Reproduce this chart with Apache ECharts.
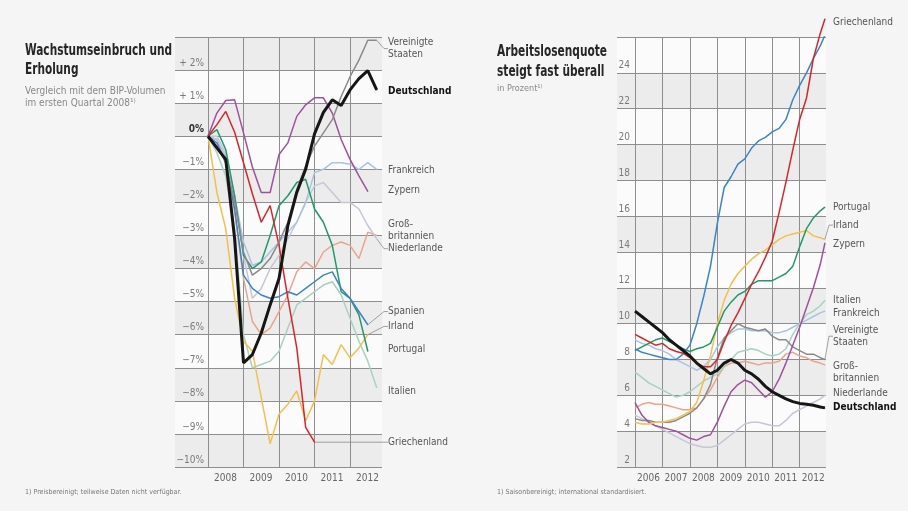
<!DOCTYPE html>
<html>
<head>
<meta charset="utf-8">
<script src="https://cdn.jsdelivr.net/npm/echarts@6/dist/echarts.min.js"></script>
<style>
  html, body { margin: 0; padding: 0; background: #f5f5f5; }
  #chart { width: 908px; height: 511px; }
</style>
</head>
<body>
<div id="chart"></div>
<script>
// ---------- GDP volume vs. 2008 Q1, in % (quarterly) ----------
const gdpQuarters = [2008.00, 2008.25, 2008.50, 2008.75, 2009.00, 2009.25, 2009.50, 2009.75,
                     2010.00, 2010.25, 2010.50, 2010.75, 2011.00, 2011.25, 2011.50, 2011.75,
                     2012.00, 2012.25, 2012.50, 2012.75];
const gdpYears = [2008, 2009, 2010, 2011, 2012];
const gdpTicks = [-10, -9, -8, -7, -6, -5, -4, -3, -2, -1, 0, 1, 2];

const gdpVereinigteStaaten = [0, -0.3, -0.8, -2.0, -3.5, -4.2, -4.0, -3.7, -3.2, -2.6, -1.6, -0.9, -0.3, 0.1, 0.5, 1.2, 1.8, 2.3, 2.9, 2.9];
const gdpDeutschland = [0, -0.35, -0.7, -3.1, -6.85, -6.6, -5.95, -5.1, -4.3, -2.7, -1.7, -1.0, 0.07, 0.72, 1.1, 0.93, 1.4, 1.74, 1.98, 1.4];
const gdpFrankreich = [0, -0.1, -0.6, -1.8, -3.2, -3.9, -3.8, -3.5, -3.2, -2.9, -2.6, -2.0, -1.1, -1.0, -0.8, -0.8, -0.85, -1.0, -0.8, -1.0];
const gdpZypern = [0, 0.7, 1.08, 1.1, 0.1, -0.93, -1.7, -1.7, -0.55, -0.2, 0.6, 0.95, 1.16, 1.16, 0.7, -0.1, -0.7, -1.2, -1.67];
const gdpGrossbritannien = [0, -0.1, -0.8, -2.3, -4.3, -5.6, -6.0, -5.8, -5.3, -4.8, -4.1, -3.8, -4.0, -3.5, -3.3, -3.2, -3.3, -3.7, -2.9, -3.0];
const gdpNiederlande = [0, 0.0, -0.5, -1.8, -3.6, -4.9, -4.6, -4.0, -3.6, -3.1, -2.6, -2.0, -1.5, -1.4, -1.7, -2.0, -2.0, -2.2, -2.7, -3.1];
const gdpSpanien = [0, -0.2, -0.8, -2.2, -4.2, -4.6, -4.8, -4.9, -4.85, -4.7, -4.8, -4.6, -4.4, -4.2, -4.1, -4.6, -4.9, -5.3, -5.7];
const gdpIrland = [0, -1.7, -2.8, -4.9, -6.2, -6.5, -7.9, -9.3, -8.4, -8.1, -7.7, -8.6, -8.0, -6.6, -6.9, -6.3, -6.7, -6.4, -6.0];
const gdpPortugal = [0, 0.2, -0.4, -1.8, -3.6, -4.0, -3.8, -3.0, -2.1, -1.8, -1.4, -1.3, -2.2, -2.6, -3.3, -4.7, -4.9, -5.4, -6.5];
const gdpItalien = [0, -0.5, -1.2, -2.8, -6.0, -7.0, -6.9, -6.8, -6.5, -5.8, -5.1, -4.9, -4.7, -4.5, -4.4, -4.8, -5.5, -6.2, -6.8, -7.6];
const gdpGriechenland = [0, 0.35, 0.75, 0.12, -0.8, -1.74, -2.6, -2.1, -3.3, -4.9, -6.4, -8.8, -9.25];

// ---------- Unemployment rate in % ----------
const ueDates = [2006.00, 2006.25, 2006.50, 2006.75, 2007.00, 2007.25, 2007.50, 2007.75,
                 2008.00, 2008.25, 2008.50, 2008.75, 2009.00, 2009.25, 2009.50, 2009.75,
                 2010.00, 2010.25, 2010.50, 2010.75, 2011.00, 2011.25, 2011.50, 2011.75,
                 2012.00, 2012.25, 2012.50, 2012.75, 2012.92];
const ueYears = [2006, 2007, 2008, 2009, 2010, 2011, 2012];
const ueTicks = [2, 4, 6, 8, 10, 12, 14, 16, 18, 20, 22, 24];

const ueGriechenland = [9.4, 9.2, 9.0, 8.8, 8.9, 8.6, 8.45, 8.35, 8.1, 7.8, 7.6, 7.6, 8.0, 9.0, 9.9, 10.6, 11.4, 12.2, 12.9, 13.7, 14.6, 16.2, 17.9, 19.7, 21.4, 22.6, 24.8, 26.2, 27.0];
const ueSpanien = [8.6, 8.4, 8.3, 8.2, 8.1, 8.0, 8.0, 8.3, 8.8, 10.0, 11.5, 13.2, 15.6, 17.6, 18.2, 18.9, 19.2, 19.8, 20.2, 20.4, 20.7, 20.9, 21.4, 22.5, 23.3, 24.0, 24.8, 25.5, 26.1];
const uePortugal = [8.5, 8.7, 8.9, 9.1, 9.2, 9.0, 8.8, 8.6, 8.45, 8.6, 8.7, 8.9, 9.8, 10.7, 11.2, 11.6, 11.8, 12.2, 12.4, 12.4, 12.4, 12.6, 12.8, 13.2, 14.3, 15.3, 15.9, 16.3, 16.5];
const ueIrland = [4.5, 4.4, 4.4, 4.5, 4.5, 4.6, 4.7, 4.9, 5.1, 5.6, 6.8, 8.2, 10.0, 11.3, 12.2, 12.8, 13.2, 13.6, 13.9, 14.1, 14.4, 14.7, 14.9, 15.0, 15.1, 15.2, 14.9, 14.8, 14.7];
const ueZypern = [5.6, 4.9, 4.5, 4.3, 4.2, 4.1, 4.0, 3.8, 3.6, 3.5, 3.7, 3.8, 4.5, 5.4, 6.2, 6.6, 6.85, 6.7, 6.3, 5.9, 6.2, 6.9, 7.8, 8.8, 9.8, 10.9, 12.0, 13.3, 14.5];
const ueItalien = [7.3, 7.0, 6.7, 6.5, 6.3, 6.1, 5.9, 6.0, 6.2, 6.5, 6.8, 7.0, 7.2, 7.6, 8.0, 8.4, 8.5, 8.6, 8.5, 8.3, 8.2, 8.3, 8.6, 9.4, 10.0, 10.5, 10.7, 11.0, 11.3];
const ueFrankreich = [9.1, 8.9, 8.8, 8.6, 8.5, 8.3, 8.0, 7.8, 7.6, 7.4, 7.6, 8.0, 8.7, 9.2, 9.5, 9.7, 9.7, 9.6, 9.6, 9.6, 9.5, 9.5, 9.6, 9.8, 10.0, 10.2, 10.4, 10.6, 10.7];
const ueVereinigteStaaten = [4.7, 4.6, 4.6, 4.5, 4.5, 4.5, 4.6, 4.8, 5.0, 5.3, 5.8, 6.6, 8.1, 9.2, 9.6, 10.0, 9.8, 9.7, 9.6, 9.7, 9.3, 9.1, 9.1, 8.7, 8.5, 8.3, 8.3, 8.1, 8.0];
const ueGrossbritannien = [5.3, 5.5, 5.6, 5.5, 5.5, 5.4, 5.3, 5.2, 5.2, 5.3, 5.8, 6.3, 7.0, 7.6, 7.8, 7.8, 7.9, 7.8, 7.7, 7.8, 7.8, 7.9, 8.3, 8.4, 8.2, 8.1, 7.9, 7.8, 7.7];
const ueNiederlande = [4.9, 4.7, 4.5, 4.3, 4.1, 3.9, 3.7, 3.5, 3.3, 3.2, 3.1, 3.1, 3.2, 3.5, 3.8, 4.1, 4.4, 4.5, 4.5, 4.4, 4.3, 4.3, 4.6, 5.0, 5.2, 5.4, 5.6, 5.8, 6.0];
const ueDeutschland = [10.7, 10.4, 10.1, 9.8, 9.5, 9.1, 8.8, 8.5, 8.2, 7.8, 7.5, 7.2, 7.4, 7.8, 8.0, 7.8, 7.4, 7.2, 6.9, 6.5, 6.2, 6.0, 5.8, 5.65, 5.55, 5.5, 5.45, 5.35, 5.3];

// ---------- styling ----------
const FONT = "'Liberation Sans Narrow','DejaVu Sans Condensed','Roboto',sans-serif";
const GRID_LINE = '#8e8e8e';
const BAND_COLORS = ['#ececec', '#fbfbfb'];
const COLORS = {
  Deutschland: '#161616',
  VereinigteStaaten: '#8a8a8a',
  Frankreich: '#a9c3e2',
  Zypern: '#a0509c',
  Grossbritannien: '#e8a58b',
  Niederlande: '#c6c7d6',
  Spanien: '#3c84c5',
  Irland: '#f2c04c',
  Portugal: '#23996a',
  Italien: '#a7d2bf',
  Griechenland: '#d7262b'
};

const panelGdp = { grid: 0, xs: gdpQuarters, xMax: 2012.9, labelGap: 6 };
const panelUe = { grid: 2, xs: ueDates, xMax: 2012.96, labelGap: 7 };

const chart = echarts.init(document.getElementById('chart'), null, { renderer: 'canvas' });

// horizontal squeeze so a heading fits the narrow headline column
const measureCtx = document.createElement('canvas').getContext('2d');
function squeeze(text, font, targetWidth) {
  measureCtx.font = font;
  const w = measureCtx.measureText(text).width;
  return w > targetWidth ? targetWidth / w : 1;
}

const HEAD_FONT = 'bold 15px ' + FONT;
const headLeftScale = squeeze('Wachstumseinbruch und', HEAD_FONT, 147);
const headRightScale = squeeze('Arbeitslosenquote', HEAD_FONT, 110);

function heading(x, y, text, scale, lineHeight) {
  return {
    type: 'text', x: x, y: y, scaleX: scale, silent: true,
    style: { text: text, font: HEAD_FONT, fill: '#262626', lineHeight: lineHeight, verticalAlign: 'top' }
  };
}

// end-of-line name, placed at a given axis value to the right of the plot
function lineSeries(panel, text, ys, color, opts) {
  opts = opts || {};
  const last = ys.length - 1;
  const data = ys.map(function (v, i) {
    const p = [panel.xs[i], v];
    if (i !== last) return p;
    return { value: p, symbol: 'circle', symbolSize: opts.dot || 1, label: { show: true } };
  });
  return {
    type: 'line',
    xAxisIndex: panel.grid,
    yAxisIndex: panel.grid,
    data: data,
    symbol: 'none',
    showSymbol: true,
    showAllSymbol: true,
    clip: !opts.noClip,
    silent: true,
    z: opts.z || 3,
    lineStyle: { color: color, width: opts.width || 1.5 },
    itemStyle: { color: color },
    label: {
      show: false,
      formatter: text,
      fontFamily: FONT,
      fontSize: opts.bold ? 10 : 10,
      fontWeight: opts.bold ? 'bold' : 'normal',
      color: opts.bold ? '#111' : '#555',
      lineHeight: 12,
      opacity: 1
    },
    labelLine: { show: !!opts.leader, length2: 4, lineStyle: { color: '#8c8c8c', width: 0.8 } },
    labelLayout: function () {
      const p = chart.convertToPixel({ gridIndex: panel.grid }, [panel.xMax, opts.at]);
      return { x: p[0] + panel.labelGap, y: p[1], align: 'left', verticalAlign: 'middle' };
    }
  };
}

function bandAxis(gridIndex, min, max, interval) {
  return {
    type: 'value', gridIndex: gridIndex, min: min, max: max, interval: interval, z: 0,
    axisLine: { show: false }, axisTick: { show: false }, axisLabel: { show: false },
    splitLine: { show: true, lineStyle: { color: GRID_LINE, width: 1 } },
    splitArea: { show: true, areaStyle: { color: BAND_COLORS } }
  };
}

function yearAxis(gridIndex, min, max, years, shift) {
  return {
    type: 'value', gridIndex: gridIndex, min: min, max: max, interval: 1, z: 2,
    axisLine: { show: false }, axisTick: { show: false },
    splitLine: { show: true, showMaxLine: false, lineStyle: { color: GRID_LINE, width: 1 } },
    axisLabel: {
      fontFamily: FONT, fontSize: 10, color: '#666', margin: 6,
      padding: [0, 0, 0, shift],
      formatter: function (v) { return years.indexOf(v) >= 0 ? String(v) : ''; }
    }
  };
}

const option = {
  backgroundColor: '#f5f5f5',
  animation: false,
  title: [
    {
      left: 25, top: 85, padding: 0,
      text: 'Vergleich mit dem BIP-Volumen\nim ersten Quartal 2008¹⁾',
      textStyle: { fontFamily: FONT, fontSize: 10, fontWeight: 'normal', color: '#888', lineHeight: 12 }
    },
    {
      left: 497, top: 83, padding: 0,
      text: 'in Prozent¹⁾',
      textStyle: { fontFamily: FONT, fontSize: 9, fontWeight: 'normal', color: '#888', lineHeight: 12 }
    },
    {
      left: 25, top: 489, padding: 0,
      text: '1) Preisbereinigt; teilweise Daten nicht verfügbar.',
      textStyle: { fontFamily: FONT, fontSize: 7, fontWeight: 'normal', color: '#777' }
    },
    {
      left: 497, top: 489, padding: 0,
      text: '1) Saisonbereinigt; international standardisiert.',
      textStyle: { fontFamily: FONT, fontSize: 7, fontWeight: 'normal', color: '#777' }
    }
  ],
  graphic: [
    heading(25, 42, 'Wachstumseinbruch und\nErholung', headLeftScale, 19),
    heading(497, 42, 'Arbeitslosenquote\nsteigt fast überall', headRightScale, 20)
  ],
  grid: [
    { left: 208, top: 37, width: 174, height: 430 },
    { left: 175, top: 37, width: 33, height: 430 },
    { left: 635, top: 37, width: 191, height: 430 },
    { left: 617, top: 37, width: 18, height: 430 }
  ],
  xAxis: [
    yearAxis(0, 2008, panelGdp.xMax, gdpYears, 35),
    { type: 'value', gridIndex: 1, min: 0, max: 1, show: false },
    yearAxis(2, 2006, panelUe.xMax, ueYears, 27),
    { type: 'value', gridIndex: 3, min: 0, max: 1, show: false }
  ],
  yAxis: [
    {
      type: 'value', gridIndex: 0, min: -10, max: 3, interval: 1, z: 1,
      axisLine: { show: false }, axisTick: { show: false },
      splitLine: { show: true, lineStyle: { color: GRID_LINE, width: 1 } },
      splitArea: { show: true, areaStyle: { color: BAND_COLORS } },
      axisLabel: {
        fontFamily: FONT, fontSize: 10, color: '#7a7a7a', margin: 4,
        align: 'right', verticalAlign: 'bottom', padding: [0, 0, 2, 0],
        rich: { b: { fontFamily: FONT, fontSize: 10, fontWeight: 'bold', color: '#333' } },
        formatter: function (v) {
          if (gdpTicks.indexOf(v) < 0) return '';
          if (v === 0) return '{b|0%}';
          return (v > 0 ? '+ ' + v : '\u2212' + Math.abs(v)) + '%';
        }
      }
    },
    bandAxis(1, -10, 3, 1),
    {
      type: 'value', gridIndex: 2, min: 2, max: 26, interval: 2, z: 1,
      axisLine: { show: false }, axisTick: { show: false },
      splitLine: { show: true, lineStyle: { color: GRID_LINE, width: 1 } },
      splitArea: { show: true, areaStyle: { color: BAND_COLORS } },
      axisLabel: {
        fontFamily: FONT, fontSize: 10, color: '#7a7a7a', margin: 5,
        align: 'right', verticalAlign: 'bottom', padding: [0, 0, 2, 0],
        formatter: function (v) { return ueTicks.indexOf(v) >= 0 ? String(v) : ''; }
      }
    },
    bandAxis(3, 2, 26, 2)
  ],
  series: [
    // growth panel
    lineSeries(panelGdp, 'Groß-\nbritannien', gdpGrossbritannien, COLORS.Grossbritannien, { at: -2.85 }),
    lineSeries(panelGdp, 'Niederlande', gdpNiederlande, COLORS.Niederlande, { at: -3.4, leader: true }),
    lineSeries(panelGdp, 'Frankreich', gdpFrankreich, COLORS.Frankreich, { at: -1.03 }),
    lineSeries(panelGdp, 'Italien', gdpItalien, COLORS.Italien, { at: -7.7 }),
    lineSeries(panelGdp, 'Irland', gdpIrland, COLORS.Irland, { at: -5.75, leader: true }),
    lineSeries(panelGdp, 'Zypern', gdpZypern, COLORS.Zypern, { at: -1.65 }),
    lineSeries(panelGdp, 'Portugal', gdpPortugal, COLORS.Portugal, { at: -6.45 }),
    lineSeries(panelGdp, 'Spanien', gdpSpanien, COLORS.Spanien, { at: -5.3, leader: true }),
    lineSeries(panelGdp, 'Griechenland', gdpGriechenland, COLORS.Griechenland, { at: -9.25, leader: true }),
    lineSeries(panelGdp, 'Vereinigte\nStaaten', gdpVereinigteStaaten, COLORS.VereinigteStaaten, { at: 2.65, leader: true }),
    lineSeries(panelGdp, 'Deutschland', gdpDeutschland, COLORS.Deutschland, { at: 1.35, bold: true, width: 3, z: 5 }),

    // unemployment panel
    lineSeries(panelUe, 'Niederlande', ueNiederlande, COLORS.Niederlande, { at: 6.1 }),
    lineSeries(panelUe, 'Groß-\nbritannien', ueGrossbritannien, COLORS.Grossbritannien, { at: 7.3 }),
    lineSeries(panelUe, 'Frankreich', ueFrankreich, COLORS.Frankreich, { at: 10.6 }),
    lineSeries(panelUe, 'Italien', ueItalien, COLORS.Italien, { at: 11.3 }),
    lineSeries(panelUe, 'Vereinigte\nStaaten', ueVereinigteStaaten, COLORS.VereinigteStaaten, { at: 9.3, leader: true }),
    lineSeries(panelUe, 'Zypern', ueZypern, COLORS.Zypern, { at: 14.4 }),
    lineSeries(panelUe, 'Irland', ueIrland, COLORS.Irland, { at: 15.5, leader: true }),
    lineSeries(panelUe, 'Portugal', uePortugal, COLORS.Portugal, { at: 16.5 }),
    lineSeries(panelUe, 'Spanien', ueSpanien, COLORS.Spanien, { at: 26.0, dot: 4 }),
    lineSeries(panelUe, 'Griechenland', ueGriechenland, COLORS.Griechenland, { at: 26.8, noClip: true }),
    lineSeries(panelUe, 'Deutschland', ueDeutschland, COLORS.Deutschland, { at: 5.3, bold: true, width: 3, z: 5 })
  ]
};

chart.setOption(option);
</script>
</body>
</html>
